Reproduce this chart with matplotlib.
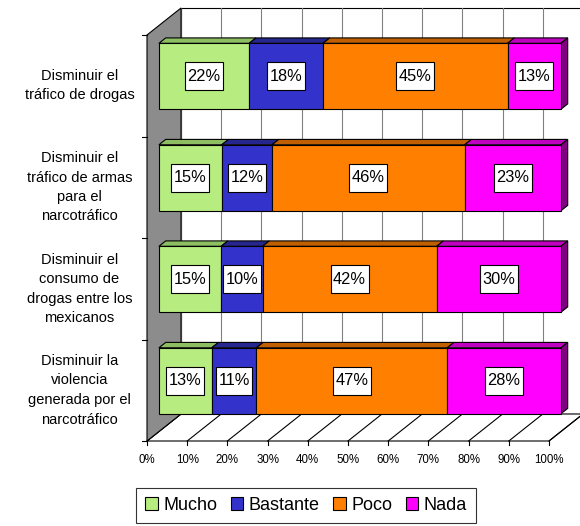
import numpy as np
import matplotlib
matplotlib.use("Agg")
import matplotlib.pyplot as plt
from matplotlib.patches import Polygon, Rectangle
from matplotlib.transforms import IdentityTransform

categories = ["Disminuir el\ntráfico de drogas",
              "Disminuir el\ntráfico de armas\npara el\nnarcotráfico",
              "Disminuir el\nconsumo de\ndrogas entre los\nmexicanos",
              "Disminuir la\nviolencia\ngenerada por el\nnarcotráfico"]
series_names = ["Mucho", "Bastante", "Poco", "Nada"]
mucho = [22, 15, 15, 13]
bastante = [18, 12, 10, 11]
poco = [45, 46, 42, 47]
nada = [13, 23, 30, 28]
xticks = [0, 10, 20, 30, 40, 50, 60, 70, 80, 90, 100]
xticklabels = [f"{t}%" for t in xticks]

front_colors = ["#B6EC80", "#3333CC", "#FF8000", "#FF00FF"]
top_colors = ["#8DBF62", "#26268F", "#C05F00", "#C000C0"]
side_colors = ["#6E9A48", "#1E1E70", "#9A4C00", "#800080"]

FONT = ["Liberation Sans", "DejaVu Sans"]
plt.rcParams["font.family"] = FONT

W, H = 580, 526
fig = plt.figure(figsize=(W / 100, H / 100), dpi=100)
# front plane (depth 0): x 0..100 -> px 147..549, rows -> px 35..441
ax = fig.add_axes([147 / W, (H - 441) / H, 402 / W, 406 / H])
n = len(categories)
ax.set_xlim(0, 100)
ax.set_ylim(n - 0.5, -0.5)
ax.axis("off")

# depth vector (full depth) in data units
DX = 34 * 100 / 402
DY = -27 * n / 406


def off(x, y, d):
    return (x + DX * d, y + DY * d)


def poly(pts, fc, ec="black", lw=0.8, z=1):
    p = Polygon(pts, closed=True, facecolor=fc, edgecolor=ec, linewidth=lw,
                zorder=z, clip_on=False, joinstyle="miter")
    ax.add_patch(p)
    return p


ytop, ybot = -0.5, n - 0.5
grid_c = "#808080"

# back wall
poly([off(0, ytop, 1), off(100, ytop, 1), off(100, ybot, 1), off(0, ybot, 1)],
     "white", ec="black", lw=0.8, z=1)
for t in xticks:
    ax.plot(*zip(off(t, ytop, 1), off(t, ybot, 1)), color=grid_c, lw=0.8,
            zorder=1.1, clip_on=False)
# floor
poly([off(0, ybot, 0), off(100, ybot, 0), off(100, ybot, 1), off(0, ybot, 1)],
     "white", ec="black", lw=0.8, z=1.2)
for t in xticks:
    ax.plot(*zip(off(t, ybot, 0), off(t, ybot, 1)), color="black", lw=0.8,
            zorder=1.3, clip_on=False)
# left wall
poly([off(0, ytop, 0), off(0, ytop, 1), off(0, ybot, 1), off(0, ybot, 0)],
     "#8C8C8C", ec="black", lw=0.8, z=1.4)

# x tick marks and labels (front edge)
for t, lab in zip(xticks, xticklabels):
    ax.plot([t, t], [ybot, ybot + 0.035], color="black", lw=0.8, clip_on=False, zorder=1.5)
    ax.text(t, ybot + 0.13, lab, ha="center", va="top", fontsize=8.3, zorder=5)
# category tick marks at left
for b in np.arange(n + 1) - 0.5:
    ax.plot([-1.2, 0], [b, b], color="black", lw=0.8, clip_on=False, zorder=1.5)

# bars (100% stacked)
data = np.array([mucho, bastante, poco, nada], dtype=float)
totals = data.sum(axis=0)
shares = data / totals * 100
df, db = 0.35, 0.55
bh = 0.65
ypos = np.arange(n)
value_texts = []
for i in range(n):
    yc = ypos[i]
    y0, y1 = yc - bh / 2, yc + bh / 2
    left = 0.0
    for s in range(len(series_names)):
        w = shares[s, i]
        x0, x1 = left, left + w
        poly([off(x0, y0, df), off(x1, y0, df), off(x1, y0, db), off(x0, y0, db)],
             top_colors[s], z=3)
        if s == len(series_names) - 1:
            poly([off(x1, y0, df), off(x1, y0, db), off(x1, y1, db), off(x1, y1, df)],
                 side_colors[s], z=3)
        left = x1
    fx, fy = off(0, yc, df)
    left = 0.0
    for s in range(len(series_names)):
        ax.barh([fy], [shares[s, i]], height=bh, left=fx + left,
                color=front_colors[s], edgecolor="black", linewidth=0.8, zorder=4,
                clip_on=False)
        left += shares[s, i]
    left = 0.0
    for s in range(len(series_names)):
        w = shares[s, i]
        cx = fx + left + w / 2
        t = ax.text(cx, fy, f"{int(data[s, i])}%", ha="center", va="center",
                    fontsize=11.8, zorder=6 + 0.1 * s)
        value_texts.append(t)
        left += w
    ax.text(-16.8, yc, categories[i], ha="center", va="center", fontsize=10.5,
            multialignment="center", linespacing=1.5, clip_on=False)

# white boxes behind value labels, sized from the rendered text
fig.canvas.draw()
renderer = fig.canvas.get_renderer()
for t in value_texts:
    bb = t.get_window_extent(renderer)
    cxp = (bb.x0 + bb.x1) / 2
    cyp = (bb.y0 + bb.y1) / 2
    wpx = bb.width + 5
    hpx = 28
    r = Rectangle((cxp - wpx / 2, cyp - hpx / 2), wpx, hpx, transform=IdentityTransform(),
                  facecolor="white", edgecolor="black", linewidth=0.8,
                  zorder=t.get_zorder() - 0.05, clip_on=False)
    ax.add_artist(r)

# legend
handles = [Rectangle((0, 0), 1, 1, facecolor=c, edgecolor="black", linewidth=0.8)
           for c in front_colors]
leg = fig.legend(handles, series_names, loc="center",
                 bbox_to_anchor=(306 / W, 1 - 505.5 / H), ncol=4, frameon=True,
                 fontsize=13, handlelength=0.7, handleheight=0.7, handletextpad=0.3,
                 columnspacing=0.75, borderpad=0.5, fancybox=False)
leg.get_frame().set_edgecolor("black")
leg.get_frame().set_linewidth(0.8)

fig.savefig("out.png", dpi=100)
